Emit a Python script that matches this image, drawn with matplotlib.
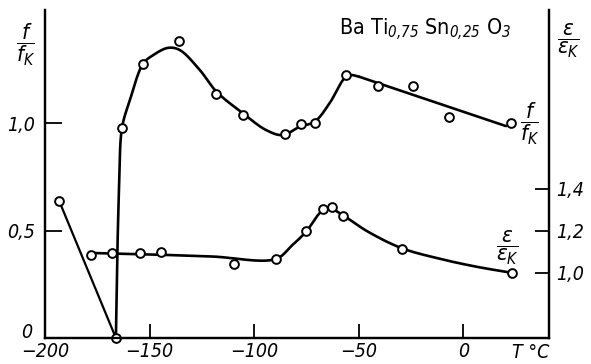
import numpy as np
import matplotlib
matplotlib.use('Agg')
import matplotlib.pyplot as plt
from matplotlib.transforms import ScaledTranslation

FAM = ['DejaVu Sans']
plt.rcParams['font.family'] = FAM
plt.rcParams['font.style'] = 'italic'
plt.rcParams['font.stretch'] = 'condensed'
plt.rcParams['mathtext.fontset'] = 'custom'
plt.rcParams['mathtext.rm'] = 'DejaVu Sans:italic:stretch=condensed'
plt.rcParams['mathtext.it'] = 'DejaVu Sans:italic:stretch=condensed'
plt.rcParams['mathtext.bf'] = 'DejaVu Sans:bold:stretch=condensed'

# ---- measured points ----
f_T = [-193.2, -166.1, -163.2, -153.1, -135.9, -118.0, -105.3, -85.1, -77.5,
       -71.1, -56.0, -40.9, -24.2, -6.7, 22.8]
f_val = [0.637, 0.0, 0.977, 1.276, 1.380, 1.133, 1.037, 0.947, 0.994,
         1.001, 1.223, 1.172, 1.173, 1.027, 1.001]

eps_T = [-178.2, -168.2, -154.7, -144.5, -109.6, -89.7, -75.1, -67.2, -62.9,
         -57.6, -29.5, 23.5]
eps_val = [1.084, 1.097, 1.097, 1.100, 1.044, 1.065, 1.200, 1.306, 1.313,
           1.270, 1.116, 1.000]

# ---- fitted curves ----
f_drop_T = [-193.2, -166.1]
f_drop_val = [0.637, 0.0]
f_curve_T = [-166.1, -165.4, -164.5, -163.2, -159.4, -153.1, -148.3, -141.1,
             -135.6, -126.0, -118.0, -105.3, -94.2, -86.3, -78.3, -71.1,
             -64.0, -56.8, -53.6, -49.6]
f_curve_val = [0.0, 0.40, 0.72, 0.977, 1.107, 1.276, 1.316, 1.350,
               1.340, 1.247, 1.146, 1.045, 0.967, 0.944, 0.983, 1.006,
               1.091, 1.208, 1.223, 1.215]
f_line_T = [-49.6, 20.4]
f_line_val = [1.215, 0.986]

eps_curve_T = [-178.2, -150.0, -120.0, -89.7, -82.0, -75.1, -67.9, -64.0,
               -57.3, -45.7, -29.5, -11.5, 6.0, 23.5]
eps_curve_val = [1.095, 1.088, 1.078, 1.066, 1.130, 1.197, 1.292, 1.308,
                 1.273, 1.197, 1.118, 1.068, 1.030, 1.000]

x_ticks = [-200, -150, -100, -50, 0]
x_ticklabels = ['\u2212200', '\u2212150', '\u2212100', '\u221250', '0']
f_ticks = [0, 0.5, 1.0]
f_ticklabels = ['0', '0,5', '1,0']
eps_ticks = [1.0, 1.2, 1.4]
eps_ticklabels = ['1,0', '1,2', '1,4']


def smooth(xs, ys, sx, sy, n=30):
    P = np.column_stack([np.asarray(xs) * sx, np.asarray(ys) * sy])
    P = np.vstack([2 * P[0] - P[1], P, 2 * P[-1] - P[-2]])
    out = []
    for i in range(1, len(P) - 2):
        p0, p1, p2, p3 = P[i - 1:i + 3]
        a = 0.5
        t0 = 0.0
        t1 = t0 + np.linalg.norm(p1 - p0) ** a
        t2 = t1 + np.linalg.norm(p2 - p1) ** a
        t3 = t2 + np.linalg.norm(p3 - p2) ** a
        t = np.linspace(t1, t2, n)[:, None]
        A1 = (t1 - t) / (t1 - t0) * p0 + (t - t0) / (t1 - t0) * p1
        A2 = (t2 - t) / (t2 - t1) * p1 + (t - t1) / (t2 - t1) * p2
        A3 = (t3 - t) / (t3 - t2) * p2 + (t - t2) / (t3 - t2) * p3
        B1 = (t2 - t) / (t2 - t0) * A1 + (t - t0) / (t2 - t0) * A2
        B2 = (t3 - t) / (t3 - t1) * A2 + (t - t1) / (t3 - t1) * A3
        C = (t2 - t) / (t2 - t1) * B1 + (t - t1) / (t2 - t1) * B2
        out.append(C)
    C = np.vstack(out)
    return C[:, 0] / sx, C[:, 1] / sy


fig = plt.figure(figsize=(5.91, 3.64), dpi=100)
ax = fig.add_axes([45 / 591, 26 / 364, 504 / 591, 328 / 364])
ax2 = ax.twinx()

ax.set_xlim(-200, 41)
ax.set_ylim(0, 1.526)
ax2.set_ylim(0.690, 2.252)

lw = 1.9
mk = dict(marker='o', ms=6.3, mfc='white', mec='black', mew=1.4, ls='none', zorder=5)

ax.plot(f_drop_T, f_drop_val, color='black', lw=1.6, solid_capstyle='round')
cx, cy = smooth(f_curve_T, f_curve_val, 2.095, 215)
ax.plot(cx, cy, color='black', lw=lw, solid_capstyle='round', solid_joinstyle='round')
ax.plot(f_line_T, f_line_val, color='black', lw=lw, solid_capstyle='round')
ax.plot(f_T, f_val, clip_on=False, **mk)

ex, ey = smooth(eps_curve_T, eps_curve_val, 2.095, 210)
ax2.plot(ex, ey, color='black', lw=lw, solid_capstyle='round', solid_joinstyle='round')
ax2.plot(eps_T, eps_val, clip_on=False, **mk)

for a in (ax, ax2):
    a.spines['top'].set_visible(False)
    for s in ('left', 'right', 'bottom'):
        a.spines[s].set_linewidth(1.6)

ax.set_xticks(x_ticks)
ax.set_xticklabels(x_ticklabels)
ax.set_yticks(f_ticks)
ax.set_yticklabels(f_ticklabels)
ax.tick_params(axis='x', direction='in', length=10, width=1.3, pad=3, labelsize=14)
ax.tick_params(axis='y', direction='in', length=12, width=1.3, pad=7, labelsize=14)
ax.xaxis.get_major_ticks()[0].tick1line.set_visible(False)
ax.yaxis.get_major_ticks()[0].tick1line.set_visible(False)
for lab in ax.get_xticklabels() + ax.get_yticklabels():
    lab.set_fontstyle('italic')
    lab.set_fontstretch('condensed')
# lift the "0" label slightly as in the reference
zlab = ax.get_yticklabels()[0]
zlab.set_transform(zlab.get_transform() + ScaledTranslation(-3 / 100, 7 / 100, fig.dpi_scale_trans))

ax2.set_yticks(eps_ticks)
ax2.set_yticklabels(eps_ticklabels)
ax2.tick_params(axis='y', direction='in', length=10, width=1.3, pad=5, labelsize=14)
for lab in ax2.get_yticklabels():
    lab.set_fontstyle('italic')
    lab.set_fontstretch('condensed')

# axis unit label
fig.text(531 / 591, 1 - 353 / 364, 'T \u00b0C', ha='center', va='center', fontsize=14,
         style='italic', stretch='condensed')

# axis labels as fractions
fig.text(26 / 591, 1 - 45 / 364, r'$\dfrac{f}{f_{K}}$', ha='center', va='center', fontsize=16)
fig.text(568 / 591, 1 - 41 / 364, r'$\dfrac{\varepsilon}{\varepsilon_{K}}$', ha='center',
         va='center', fontsize=16)
fig.text(530 / 591, 1 - 124 / 364, r'$\dfrac{f}{f_{K}}$', ha='center', va='center', fontsize=16)
fig.text(507 / 591, 1 - 248 / 364, r'$\dfrac{\varepsilon}{\varepsilon_{K}}$', ha='center',
         va='center', fontsize=16)

# formula
fig.text(425 / 591, 1 - 30 / 364, r'Ba Ti$_{0{,}75}$ Sn$_{0{,}25}$ O$_{3}$', ha='center',
         va='center', fontsize=15.5, style='normal', stretch='condensed')

fig.savefig('out.png', dpi=100)
